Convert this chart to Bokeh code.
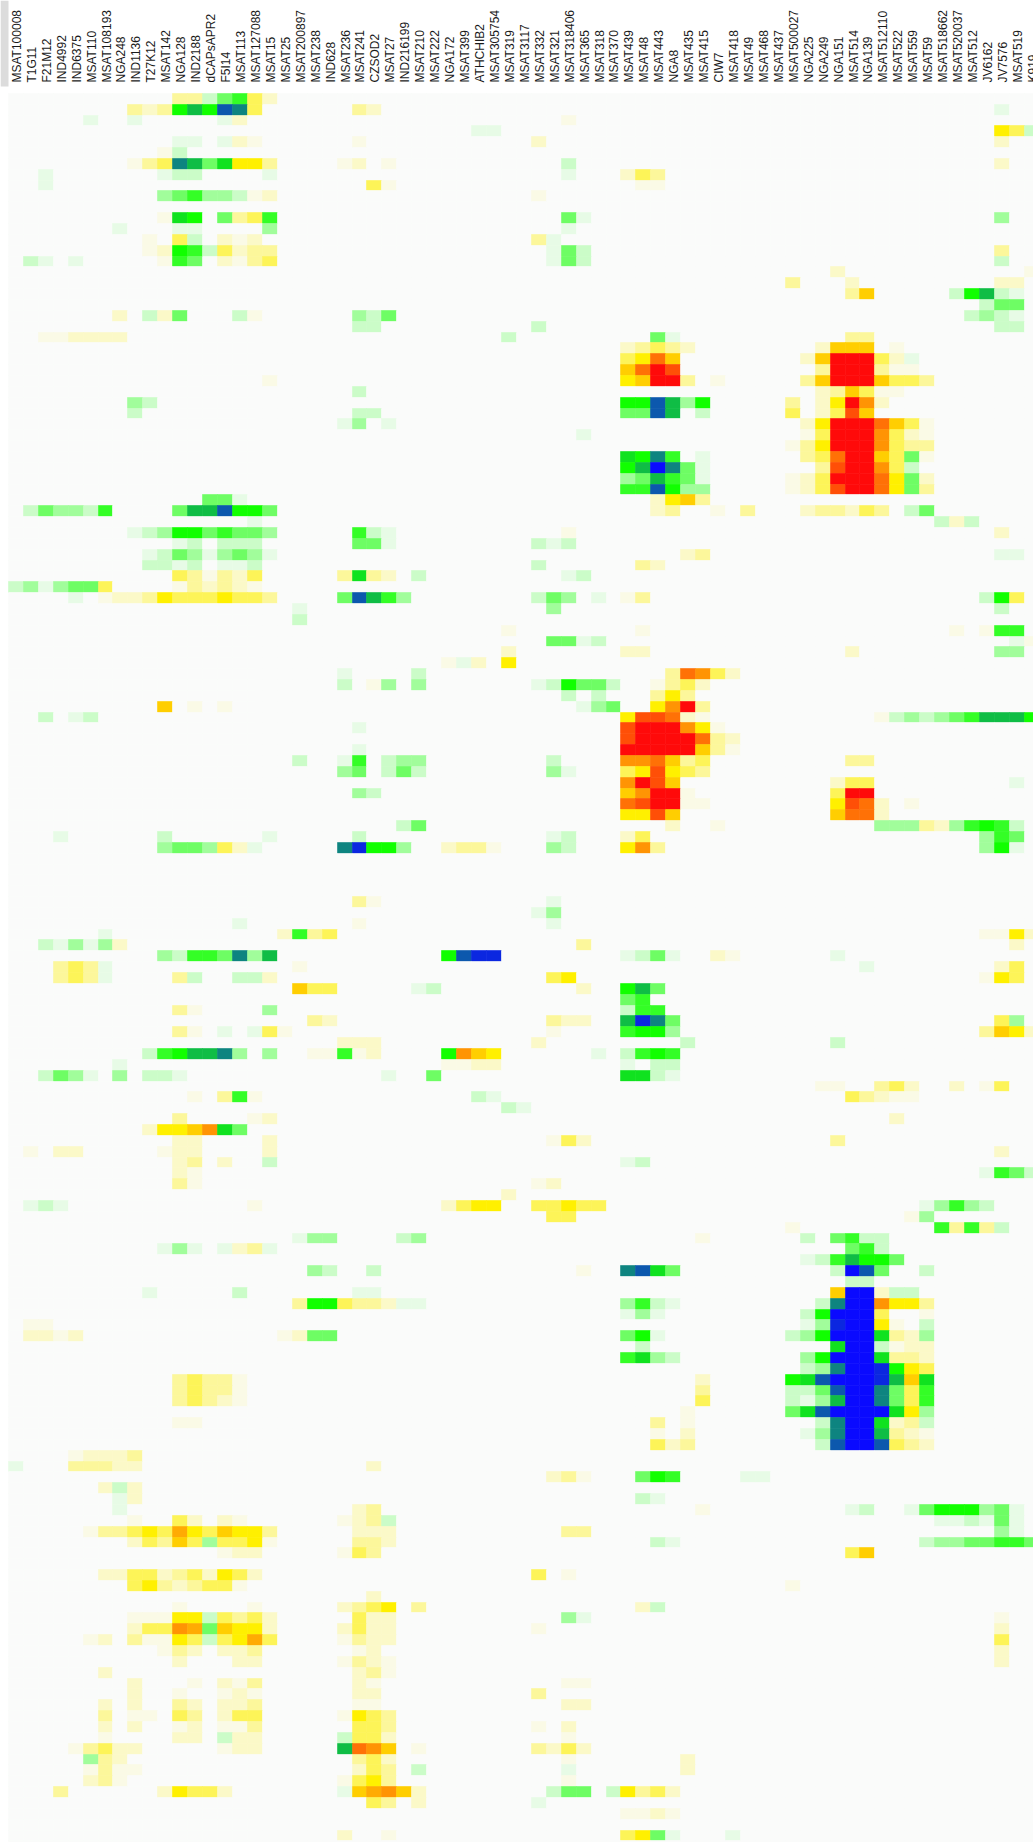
from bokeh.embed import file_html
from bokeh.resources import INLINE
from bokeh.plotting import figure
from bokeh.models import ColumnDataSource, LinearColorMapper, Range1d, BoxAnnotation
from bokeh.transform import transform
from bokeh.core.properties import value as pvalue
import math

MARKERS = ["MSAT100008","T1G11","F21M12","IND4992","IND6375","MSAT110","MSAT108193","NGA248","IND1136","T27K12",
 "MSAT142","NGA128","IND2188","dCAPsAPR2","F5I14","MSAT113","MSAT127088","MSAT15","MSAT25","MSAT200897",
 "MSAT238","IND628","MSAT236","MSAT241","CZSOD2","MSAT27","IND216199","MSAT210","MSAT222","NGA172",
 "MSAT399","ATHCHIB2","MSAT305754","MSAT319","MSAT3117","MSAT332","MSAT321","MSAT318406","MSAT365","MSAT318",
 "MSAT370","MSAT439","MSAT48","MSAT443","NGA8","MSAT435","MSAT415","CIW7","MSAT418","MSAT49",
 "MSAT468","MSAT437","MSAT500027","NGA225","NGA249","NGA151","MSAT514","NGA139","MSAT512110","MSAT522",
 "MSAT559","MSAT59","MSAT518662","MSAT520037","MSAT512","JV6162","JV7576","MSAT519","K919"]

# value estimated for each letter
LEVELS = {"a":.08,"b":.2,"c":.38,"d":.65,"e":1.0,"f":1.15,"k":1.3,"g":1.4,"j":1.55,"h":1.7,"i":2.0,
          "A":-.08,"B":-.2,"C":-.38,"D":-.6,"E":-.85,"F":-1.0,"L":-1.12,"G":-1.27,"H":-1.5,"I":-1.68,"J":-1.88,"K":-2.0}

# one entry per row: (first column, letters for consecutive columns)
ROWS = [
 [(11,"ccBDEdb")],
 [(8,"cbcFGFIHd"),(23,"cb"),(66,"A")],
 [(5,"A"),(8,"A"),(14,"Ab"),(37,"a")],
 [(31,"AA"),(66,"edB")],
 [(11,"AA"),(14,"Aba"),(23,"a"),(35,"b"),(66,"b")],
 [(10,"aB")],
 [(8,"acdHGDLeec"),(22,"ab"),(25,"a"),(37,"B"),(66,"b")],
 [(2,"A"),(10,"ABB"),(17,"A"),(37,"A"),(41,"bdc")],
 [(2,"A"),(24,"da"),(42,"aa")],
 [(10,"CDECCBab"),(35,"a")],
 [],
 [(10,"aLF"),(14,"DcdE"),(37,"DA"),(66,"C")],
 [(7,"A"),(11,"AA"),(17,"C"),(37,"A")],
 [(9,"a"),(11,"dB"),(14,"bab"),(35,"cA")],
 [(9,"abFEBdbcc"),(36,"ADB"),(66,"c")],
 [(1,"BA"),(4,"A"),(10,"aED"),(14,"bacd"),(36,"ADB"),(66,"B")],
 [(55,"b"),(68,"a")],
 [(52,"c"),(56,"b"),(66,"bb")],
 [(56,"cf"),(63,"BFGBA")],
 [(65,"BDD")],
 [(7,"b"),(9,"Bb"),(11,"D"),(15,"Ba"),(23,"CBD"),(64,"BCBA")],
 [(23,"BB"),(35,"B"),(66,"BB")],
 [(2,"aabbbb"),(33,"B"),(43,"DA"),(56,"cc")],
 [(41,"bcdcb"),(54,"bfff"),(59,"a")],
 [(41,"dejf"),(53,"bfiiidbA")],
 [(41,"fjih"),(54,"ciiicaa")],
 [(17,"a"),(41,"efiic"),(47,"a"),(53,"cfiiifddc")],
 [(23,"B"),(54,"bcfdaa")],
 [(8,"CB"),(41,"FFIGCF"),(52,"c"),(54,"beigb")],
 [(8,"B"),(23,"BB"),(41,"DDIG"),(46,"B"),(52,"d"),(54,"bdhf")],
 [(22,"AC"),(25,"A"),(53,"beiiijfda")],
 [(38,"A"),(53,"adiiigdba")],
 [(52,"aceiiigdcc")],
 [(41,"LFHE"),(46,"A"),(53,"cdjiifdDa")],
 [(41,"FGKHDA"),(54,"chiigdB")],
 [(41,"CDGEDA"),(52,"abdiiijeDb")],
 [(41,"EEIFCC"),(52,"abdhiijeDc")],
 [(13,"DDA"),(43,"befc")],
 [(1,"BDCCBE"),(11,"DGGIFFD"),(43,"bc"),(47,"a"),(49,"c"),(53,"bccbdc"),(60,"BD")],
 [(16,"A"),(62,"BbB")],
 [(8,"ABCFFDEDDC"),(23,"EBA"),(37,"a"),(66,"b")],
 [(11,"AB"),(14,"BBB"),(23,"DDA"),(35,"BAB")],
 [(9,"ABDCACDCA"),(45,"bc"),(66,"AA")],
 [(9,"BBAB"),(14,"AAB"),(35,"B"),(42,"cb")],
 [(11,"dcacbd"),(22,"cLcb"),(27,"B"),(37,"AB")],
 [(0,"BCACDDd"),(11,"acbcba")],
 [(4,"A"),(6,"abbcedddeddc"),(22,"DIGEC"),(35,"BDC"),(39,"A"),(41,"ac"),(65,"BFd")],
 [(19,"A"),(36,"C"),(66,"B")],
 [(19,"B")],
 [(33,"a"),(42,"a"),(63,"a"),(65,"aEE")],
 [(36,"DDAB"),(67,"Aa")],
 [(33,"b"),(41,"bb"),(56,"b"),(66,"CC")],
 [(29,"aAb"),(33,"e")],
 [(22,"A"),(27,"B"),(44,"cjgdb")],
 [(22,"B"),(24,"aC"),(27,"C"),(35,"ABFDDB"),(43,"acdb")],
 [(37,"B"),(39,"B"),(43,"cec")],
 [(10,"f"),(12,"a"),(14,"a"),(38,"ACD"),(43,"egic")],
 [(2,"B"),(4,"AB"),(41,"ehhjba"),(58,"aBCBCDEGGGF")],
 [(23,"A"),(41,"hiiigea")],
 [(41,"hiiiijcb")],
 [(23,"A"),(41,"iiiiifca")],
 [(19,"B"),(22,"AE"),(25,"BCC"),(36,"B"),(41,"ggjfcd"),(56,"cc")],
 [(22,"CD"),(25,"BDB"),(36,"CA"),(41,"dehedc")],
 [(41,"gihf"),(55,"bdd"),(67,"A")],
 [(23,"CB"),(41,"fgiia"),(55,"dii")],
 [(41,"jhiiaa"),(55,"ehjb"),(60,"a")],
 [(41,"eehf"),(55,"fjjb")],
 [(26,"BD"),(44,"b"),(47,"a"),(58,"CCCcbCEFEB")],
 [(3,"A"),(10,"B"),(17,"A"),(23,"B"),(36,"AB"),(41,"bd"),(65,"CED")],
 [(10,"CDDCdbA"),(22,"HJFFC"),(29,"bcca"),(36,"CB"),(41,"egc"),(65,"CFA")],
 [],[],[],[],
 [(23,"ca"),(36,"A")],
 [(35,"AC")],
 [(15,"A"),(23,"a"),(36,"A")],
 [(6,"A"),(18,"bEcd"),(65,"aaeb")],
 [(2,"BACACb"),(38,"c"),(67,"b")],
 [(10,"CBEEDHCG"),(29,"FIJJ"),(41,"ABDA"),(47,"ba"),(55,"A")],
 [(3,"cdcA"),(19,"a"),(57,"A"),(66,"bd")],
 [(3,"cdcA"),(11,"cB"),(15,"BBb"),(36,"de"),(65,"aed")],
 [(19,"fdd"),(27,"AB"),(38,"b"),(41,"FGD")],
 [(41,"DE")],
 [(11,"ca"),(17,"C"),(41,"BEE")],
 [(20,"cb"),(36,"cbb"),(41,"GJHD"),(66,"dC")],
 [(11,"ca"),(14,"A"),(16,"Ada"),(36,"a"),(41,"EFFC"),(65,"cfeb")],
 [(22,"bbb"),(35,"b"),(45,"B"),(55,"B")],
 [(9,"BEFGGHC"),(17,"C"),(20,"aaEab"),(29,"Fgfe"),(39,"A"),(41,"BEFE")],
 [(7,"A"),(29,"aabb"),(41,"A"),(43,"BB")],
 [(2,"BDCA"),(7,"C"),(9,"BBA"),(25,"A"),(28,"D"),(41,"LLBA")],
 [(54,"aa"),(58,"cdb"),(63,"b"),(65,"ad")],
 [(12,"a"),(14,"cEa"),(31,"BA"),(56,"dcbaa")],
 [(33,"BA")],
 [(11,"c"),(16,"ab"),(59,"b")],
 [(9,"beefgLD")],
 [(11,"bb"),(17,"b"),(36,"adb"),(55,"c")],
 [(1,"a"),(3,"bb"),(10,"abb"),(17,"b"),(66,"b")],
 [(11,"bc"),(14,"b"),(17,"B"),(41,"AB")],
 [(11,"ba"),(65,"AEDB")],
 [(11,"ca"),(35,"ab")],
 [(33,"b")],
 [(1,"ABA"),(16,"a"),(29,"bdee"),(35,"ddedd"),(61,"ACECB")],
 [(36,"dd"),(60,"aC")],
 [(52,"a"),(62,"EcEcB")],
 [(19,"ACC"),(26,"BC"),(46,"a"),(53,"B"),(55,"DEBB")],
 [(10,"ACA"),(14,"AbcA"),(56,"DEB")],
 [(53,"ABEGFFD")],
 [(20,"CB"),(24,"B"),(38,"a"),(41,"HILD"),(55,"BKID"),(61,"B")],
 [(56,"BB")],
 [(9,"A"),(15,"B"),(23,"AA"),(55,"fKKbBB")],
 [(19,"cFFdccbAA"),(41,"CEBA"),(54,"BHKKgeec")],
 [(41,"ACA"),(53,"BFKKKd"),(61,"a")],
 [(1,"aa"),(53,"ACJKKea"),(61,"B")],
 [(1,"bbab"),(18,"abDD"),(41,"DFA"),(52,"BCFKKKLcbC")],
 [(42,"B"),(55,"LKKBabb")],
 [(41,"ELCB"),(53,"CFKKKLccb")],
 [(53,"BCHKKJFed")],
 [(11,"cdcca"),(46,"b"),(52,"FLIKKKJGfL")],
 [(11,"cdcca"),(46,"c"),(52,"BBDIKKHDdE")],
 [(11,"cdcba"),(46,"d"),(52,"BACGKKHDdE")],
 [(45,"a"),(52,"DLIKKKKLeC")],
 [(11,"aa"),(43,"c"),(45,"a"),(54,"BHKKLbcB")],
 [(43,"a"),(45,"b"),(53,"ACHKKGcba")],
 [(43,"dbc"),(54,"BIKKIdcb")],
 [(4,"abbbc")],
 [(0,"A"),(4,"cccbb"),(24,"b")],
 [(36,"bca"),(42,"DFE"),(49,"AA")],
 [(6,"bBb")],
 [(7,"Ab"),(42,"BA")],
 [(7,"A"),(23,"bc"),(46,"a"),(56,"AB"),(60,"ADFFFCDA")],
 [(8,"a"),(11,"db"),(14,"ba"),(22,"abcB"),(62,"AABADA")],
 [(5,"accdedkedfeec"),(23,"bbb"),(37,"cc"),(66,"CA")],
 [(8,"bdcfdCddea"),(23,"ccb"),(43,"BA"),(61,"BCCDDEED")],
 [(14,"abb"),(22,"adc"),(56,"df")],
 [],
 [(6,"bbddbcdbedb"),(35,"d"),(37,"a")],
 [(8,"decbcdda"),(52,"a")],
 [(24,"b")],
 [(11,"a"),(16,"a"),(22,"bcde"),(27,"c"),(42,"bB")],
 [(8,"aaaeeBdcdb"),(23,"dbb"),(37,"CA"),(66,"a")],
 [(8,"bddgkDfeeb"),(22,"bdbb"),(35,"a"),(66,"b")],
 [(5,"ab"),(8,"caaedBdekd"),(22,"acbb"),(66,"d")],
 [(10,"acb"),(14,"bbc"),(23,"ab"),(66,"b")],
 [(11,"b"),(15,"bb"),(22,"acba"),(66,"b")],
 [(6,"b"),(23,"bca")],
 [(8,"b"),(12,"a"),(14,"bac"),(23,"ba"),(37,"aa")],
 [(8,"b"),(11,"a"),(14,"aba"),(23,"bb"),(35,"c")],
 [(6,"b"),(8,"b"),(11,"cb"),(14,"bbc"),(23,"aa"),(37,"bb")],
 [(6,"c"),(8,"aa"),(11,"dc"),(14,"bdd"),(22,"aedc")],
 [(6,"b"),(8,"b"),(11,"ab"),(14,"aac"),(23,"ddc"),(35,"a"),(37,"b")],
 [(6,"a"),(11,"bb"),(14,"Bbb"),(22,"Bddb"),(37,"a")],
 [(4,"acdbb"),(14,"abb"),(22,"Gjgf"),(27,"a"),(35,"cbdb")],
 [(5,"Ccb"),(23,"cdb"),(37,"a"),(45,"b")],
 [(5,"acaa"),(23,"bdc"),(27,"B"),(37,"A"),(45,"b")],
 [(5,"bca"),(22,"adec"),(37,"a")],
 [(3,"c"),(10,"beddb"),(22,"Afkgfb"),(36,"BDD"),(40,"Becdb")],
 [(24,"dc"),(27,"b"),(35,"A")],
 [(41,"aaba")],
 [],
 [(22,"b"),(25,"a"),(41,"deDA"),(48,"A")],
 [],
]

# colour scale: neutral grey at 0, yellow at +1, red at +2, green at -1, blue at -2
def _mix(c1, c2, t):
    return "#%02x%02x%02x" % tuple(int(round(a + (b - a) * t)) for a, b in zip(c1, c2))
NEUTRAL, YELLOW, RED, GREEN, BLUE = (250,251,250), (255,240,0), (255,10,10), (17,255,0), (10,10,255)
palette = []
for n in range(-200, 201):
    v = n / 100
    if v <= -1: palette.append(_mix(GREEN, BLUE, -v - 1))
    elif v < 0: palette.append(_mix(NEUTRAL, GREEN, -v))
    elif v <= 1: palette.append(_mix(NEUTRAL, YELLOW, v))
    else: palette.append(_mix(YELLOW, RED, v - 1))
mapper = LinearColorMapper(palette=palette, low=-2, high=2)

ncol = len(MARKERS)
grid = [[0.0] * ncol for _ in ROWS]
for r, spec in enumerate(ROWS):
    for start, letters in spec:
        for k, ch in enumerate(letters):
            grid[r][start + k] = LEVELS[ch]

W, H, CW, CH, LEFT, TOP = 1033, 1842, 14.94, 10.855, 7.9, 92.8

# cell edges in data units, snapped so that they fall on whole pixels
def xedge(c):
    return (round(LEFT + c * CW) - LEFT) / CW
def yedge(r):
    return (round(TOP + r * CH) - TOP) / CH

l, ri, t, b, vs = [], [], [], [], []
for r, row in enumerate(grid):
    for c, v in enumerate(row):
        l.append(xedge(c)); ri.append(xedge(c + 1)); t.append(yedge(r)); b.append(yedge(r + 1)); vs.append(v)

p = figure(width=W, height=H, output_backend="svg", toolbar_location=None,
           x_range=Range1d(-LEFT / CW, (W - LEFT) / CW),
           y_range=Range1d((H - TOP) / CH, -TOP / CH),
           min_border=0, margin=(0, 0, 0, 0))
p.axis.visible = False
p.grid.visible = False
p.outline_line_color = None
p.background_fill_color = "white"
p.border_fill_color = "white"

src = ColumnDataSource(dict(left=l, right=ri, top=t, bottom=b, v=vs))
p.quad(left="left", right="right", top="top", bottom="bottom", source=src,
       fill_color=transform("v", mapper), line_color=transform("v", mapper), line_width=0.6)

lab = ColumnDataSource(dict(x=[i + .5 for i in range(ncol)], y=[(82 - TOP) / CH] * ncol, t=MARKERS))
p.text("x", "y", text="t", source=lab, angle=math.pi / 2, text_align="left", text_baseline="middle",
       x_offset=1, text_font=pvalue("Liberation Sans"), text_font_size="12px", text_color="#1a1a1a")

p.add_layout(BoxAnnotation(left=0, right=8, top=H, bottom=H - 86, left_units="screen", right_units="screen",
                           top_units="screen", bottom_units="screen", fill_color="#dcdcdc", fill_alpha=1,
                           line_color=None))

open("out.html", "w").write(file_html(p, INLINE))
